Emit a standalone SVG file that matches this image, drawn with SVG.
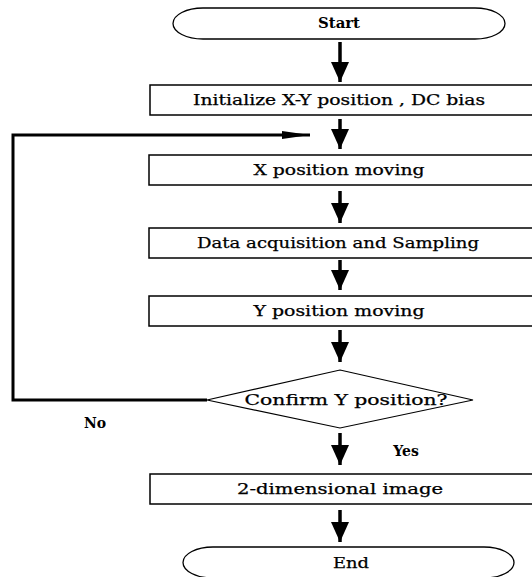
<svg xmlns="http://www.w3.org/2000/svg" width="532" height="577" viewBox="0 0 532 577">
<defs>
<style>
.box{fill:#fff;stroke:#000;stroke-width:1.5}
.t{font-family:"DejaVu Serif","Liberation Serif",serif;font-size:14px;fill:#000;stroke:#000;stroke-width:0.25;text-anchor:middle}
.b{font-weight:bold;stroke-width:0}
.sh{stroke:#000;stroke-width:3.5;fill:none}
.fb{stroke:#000;stroke-width:3;fill:none}
</style>
<marker id="ah" markerUnits="userSpaceOnUse" markerWidth="20" markerHeight="22" viewBox="0 0 20 22" refX="20" refY="11" orient="auto">
<path d="M0,2 L20,11 L0,20 Z" fill="#000"/>
</marker>
<marker id="fh" markerUnits="userSpaceOnUse" markerWidth="30" markerHeight="10" viewBox="0 0 30 10" refX="28" refY="5" orient="auto">
<path d="M0,1 L28,5 L0,9 Z" fill="#000"/>
</marker>
</defs>
<rect width="532" height="577" fill="#fff"/>
<g id="connectors">
<line class="sh" x1="340" y1="42" x2="340" y2="82" marker-end="url(#ah)"/>
<line class="sh" x1="340" y1="119" x2="340" y2="149" marker-end="url(#ah)"/>
<line class="sh" x1="340" y1="191" x2="340" y2="223" marker-end="url(#ah)"/>
<line class="sh" x1="340" y1="260" x2="340" y2="290" marker-end="url(#ah)"/>
<line class="sh" x1="340" y1="330" x2="340" y2="362" marker-end="url(#ah)"/>
<line class="sh" x1="340" y1="433" x2="340" y2="465" marker-end="url(#ah)"/>
<line class="sh" x1="340" y1="510" x2="340" y2="542" marker-end="url(#ah)"/>
<polyline class="fb" points="207,400 13,400 13,135 310,135" marker-end="url(#fh)"/>
<text class="t b" x="95" y="428">No</text>
<text class="t b" x="406" y="456">Yes</text>
</g>
<g id="start">
<rect x="173" y="8" width="332" height="31" rx="30" ry="15.5" fill="#fff" stroke="#000" stroke-width="1.3"/>
<text class="t b" x="339" y="28" textLength="42" lengthAdjust="spacingAndGlyphs">Start</text>
</g>
<g id="init">
<rect class="box" x="150" y="85" width="400" height="30"/>
<text class="t" x="339" y="105" textLength="292" lengthAdjust="spacingAndGlyphs">Initialize X-Y position , DC bias</text>
</g>
<g id="xmove">
<rect class="box" x="149" y="155" width="400" height="30"/>
<text class="t" x="339" y="175" textLength="171" lengthAdjust="spacingAndGlyphs">X position moving</text>
</g>
<g id="daq">
<rect class="box" x="149" y="228" width="400" height="30"/>
<text class="t" x="338" y="248" textLength="282" lengthAdjust="spacingAndGlyphs">Data acquisition and Sampling</text>
</g>
<g id="ymove">
<rect class="box" x="149" y="296" width="400" height="30"/>
<text class="t" x="339" y="316" textLength="171" lengthAdjust="spacingAndGlyphs">Y position moving</text>
</g>
<g id="confirm">
<polygon points="340,370 473,400 340,428 207,400" fill="#fff" stroke="#000" stroke-width="1.2"/>
<text class="t" x="346" y="405" textLength="203" lengthAdjust="spacingAndGlyphs">Confirm Y position?</text>
</g>
<g id="image2d">
<rect class="box" x="150" y="474" width="400" height="30"/>
<text class="t" x="340" y="494" textLength="206" lengthAdjust="spacingAndGlyphs">2-dimensional image</text>
</g>
<g id="end">
<rect x="183" y="547" width="331" height="31" rx="30" ry="15.5" fill="#fff" stroke="#000" stroke-width="1.3"/>
<text class="t" x="351" y="568" textLength="36" lengthAdjust="spacingAndGlyphs">End</text>
</g>
</svg>
